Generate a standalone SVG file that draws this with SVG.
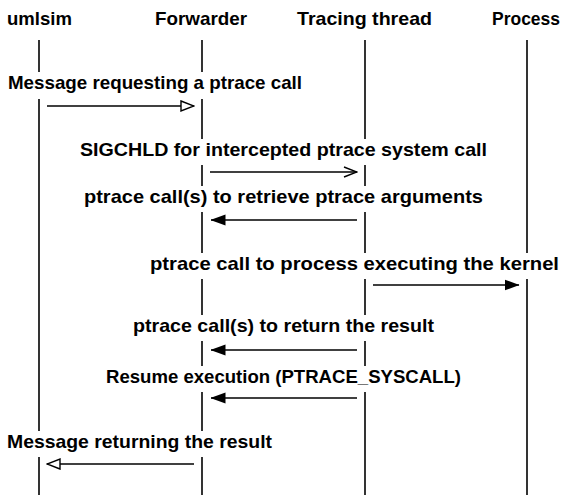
<svg xmlns="http://www.w3.org/2000/svg" width="566" height="497" viewBox="0 0 566 497">
<defs>
<style>
text{font-family:"Liberation Sans",Arial,sans-serif;font-weight:bold;font-size:18.5px;fill:#000}
.h{text-anchor:middle}
.life{stroke:#000;stroke-width:1.6;fill:none}
.msg{stroke:#000;stroke-width:1.4;fill:none}
.bg{fill:#fff}
</style>
<marker id="open" viewBox="0 0 15 12" refX="14" refY="6" markerWidth="15" markerHeight="12" markerUnits="userSpaceOnUse" orient="auto">
<path d="M1,1 L14,6 L1,11 Z" fill="#fff" stroke="#000" stroke-width="1.4"/>
</marker>
<marker id="vee" viewBox="0 0 15 12" refX="14" refY="6" markerWidth="15" markerHeight="12" markerUnits="userSpaceOnUse" orient="auto">
<path d="M1,1 L14,6 L1,11" fill="none" stroke="#000" stroke-width="1.4"/>
</marker>
<marker id="fill" viewBox="0 0 15 12" refX="14.5" refY="6" markerWidth="15" markerHeight="12" markerUnits="userSpaceOnUse" orient="auto">
<path d="M0,0.5 L15,6 L0,11.5 Z" fill="#000"/>
</marker>
</defs>
<rect width="566" height="497" fill="#fff"/>
<g id="lifelines">
<line class="life" x1="39" y1="40" x2="39" y2="495"/>
<line class="life" x1="202" y1="40" x2="202" y2="495"/>
<line class="life" x1="365" y1="40" x2="365" y2="495"/>
<line class="life" x1="527" y1="40" x2="527" y2="495"/>
</g>
<g id="umlsim"><text class="h" x="39.5" y="25" textLength="65" lengthAdjust="spacingAndGlyphs">umlsim</text></g>
<g id="forwarder"><text class="h" x="201" y="25" textLength="92" lengthAdjust="spacingAndGlyphs">Forwarder</text></g>
<g id="tracing"><text class="h" x="364.5" y="25" textLength="135" lengthAdjust="spacingAndGlyphs">Tracing thread</text></g>
<g id="process"><text class="h" x="526" y="25" textLength="68" lengthAdjust="spacingAndGlyphs">Process</text></g>
<g id="connectors">
<g id="m1"><rect class="bg" x="5" y="72" width="300" height="27"/><text x="8" y="89" textLength="294" lengthAdjust="spacingAndGlyphs">Message requesting a ptrace call</text>
<line class="msg" x1="47" y1="106" x2="194" y2="106" marker-end="url(#open)"/></g>
<g id="m2"><rect class="bg" x="77" y="139" width="413" height="26"/><text class="h" x="283.5" y="156" textLength="407" lengthAdjust="spacingAndGlyphs">SIGCHLD for intercepted ptrace system call</text>
<line class="msg" x1="210" y1="172" x2="357" y2="172" marker-end="url(#vee)"/></g>
<g id="m3"><rect class="bg" x="81" y="186" width="405" height="26"/><text class="h" x="283.5" y="203" textLength="399" lengthAdjust="spacingAndGlyphs">ptrace call(s) to retrieve ptrace arguments</text>
<line class="msg" x1="357" y1="220" x2="211" y2="220" marker-end="url(#fill)"/></g>
<g id="m4"><rect class="bg" x="147" y="253" width="415" height="26"/><text x="150" y="270" textLength="409" lengthAdjust="spacingAndGlyphs">ptrace call to process executing the kernel</text>
<line class="msg" x1="373" y1="285" x2="519" y2="285" marker-end="url(#fill)"/></g>
<g id="m5"><rect class="bg" x="130" y="315" width="307" height="26"/><text class="h" x="283.5" y="332" textLength="301" lengthAdjust="spacingAndGlyphs">ptrace call(s) to return the result</text>
<line class="msg" x1="357" y1="350" x2="211" y2="350" marker-end="url(#fill)"/></g>
<g id="m6"><rect class="bg" x="103" y="366" width="361" height="26"/><text class="h" x="283.5" y="383" textLength="355" lengthAdjust="spacingAndGlyphs">Resume execution (PTRACE_SYSCALL)</text>
<line class="msg" x1="357" y1="398" x2="211" y2="398" marker-end="url(#fill)"/></g>
<g id="m7"><rect class="bg" x="4" y="431" width="272" height="26"/><text x="7" y="448" textLength="265" lengthAdjust="spacingAndGlyphs">Message returning the result</text>
<line class="msg" x1="194" y1="464" x2="47" y2="464" marker-end="url(#open)"/></g>
</g>
</svg>
